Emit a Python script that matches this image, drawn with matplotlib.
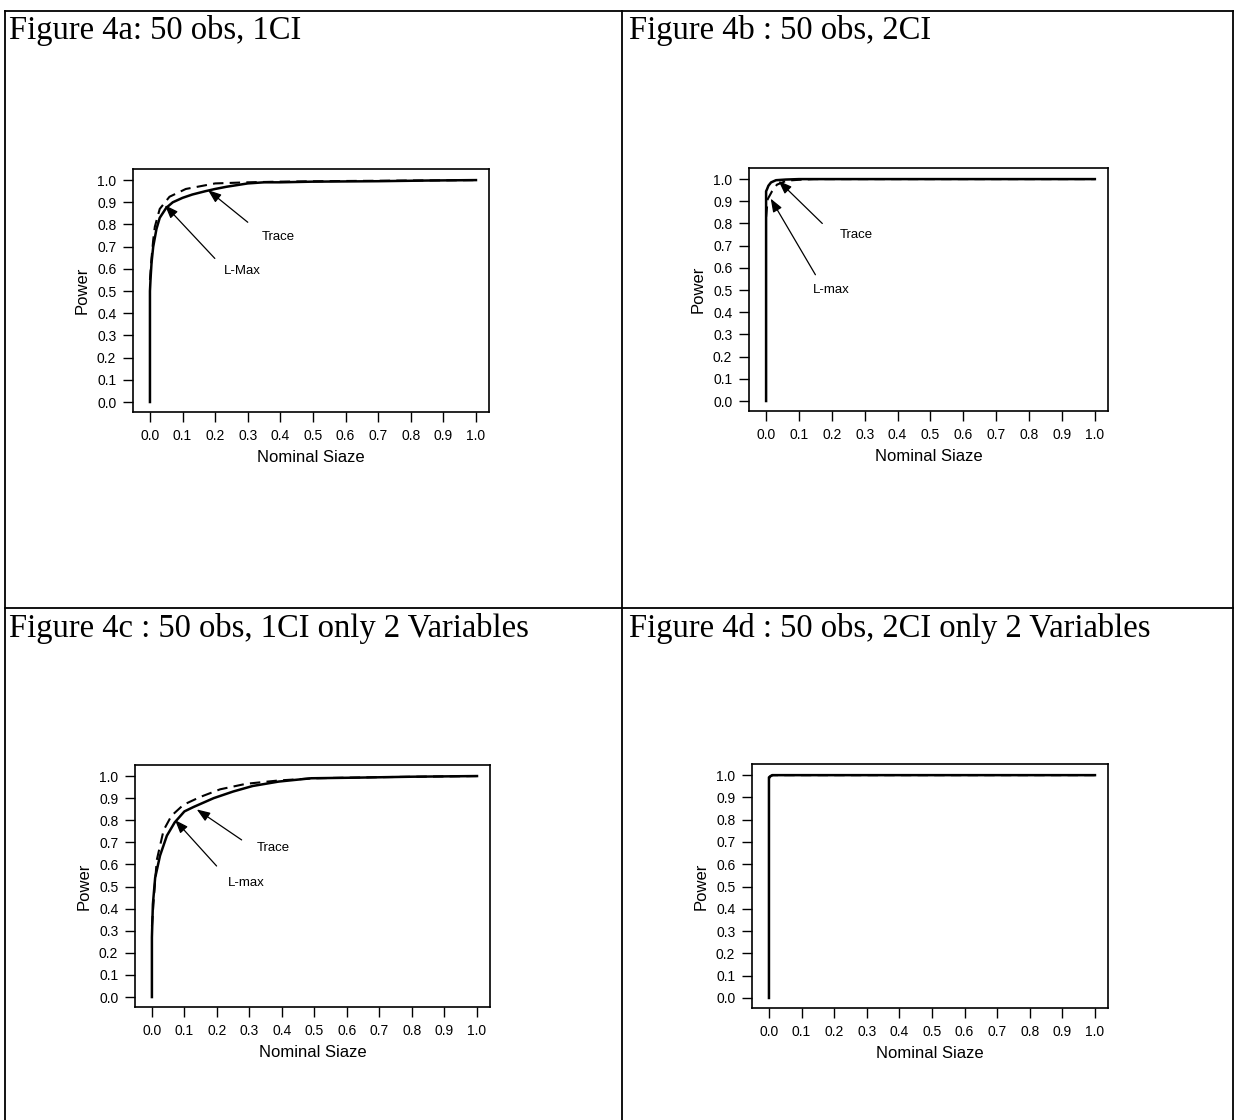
#!/usr/bin/env python3
"""Power vs. nominal size for L-max and Trace tests, 50 observations (4 panels)."""
import numpy as np
import matplotlib
matplotlib.use("Agg")
import matplotlib.pyplot as plt
from matplotlib.lines import Line2D

W, H = 1236, 1120

# panel titles
titles = [
    "Figure 4a: 50 obs, 1CI",
    "Figure 4b : 50 obs, 2CI",
    "Figure 4c : 50 obs, 1CI only 2 Variables",
    "Figure 4d : 50 obs, 2CI only 2 Variables",
]

# solid curves
a_solid_x = [0.0, 0.0, 0.002, 0.005, 0.01, 0.02, 0.03, 0.05, 0.07, 0.1, 0.13, 0.17, 0.2, 0.235, 0.3, 0.35, 0.4, 0.5, 0.7, 0.85, 1.0]
a_solid_y = [0.0, 0.5, 0.56, 0.63, 0.70, 0.78, 0.83, 0.875, 0.9, 0.92, 0.935, 0.95, 0.96, 0.97, 0.985, 0.99, 0.99, 0.993, 0.995, 0.998, 1.0]
a_dash_x = [0.0, 0.005, 0.01, 0.015, 0.03, 0.06, 0.11, 0.2, 0.3, 0.4, 0.6, 1.0]
a_dash_y = [0.55, 0.65, 0.73, 0.79, 0.87, 0.925, 0.96, 0.985, 0.99, 0.993, 0.996, 1.0]

b_solid_x = [0.0, 0.0, 0.003, 0.007, 0.015, 0.03, 0.06, 0.1, 0.3, 0.6, 1.0]
b_solid_y = [0.0, 0.945, 0.955, 0.97, 0.985, 0.995, 0.998, 1.0, 1.0, 1.0, 1.0]
b_dash_x = [0.0, 0.005, 0.018, 0.033, 0.063, 0.1, 0.145, 0.3, 1.0]
b_dash_y = [0.83, 0.91, 0.945, 0.975, 0.993, 0.997, 1.0, 1.0, 1.0]

c_solid_x = [0.0, 0.0, 0.003, 0.01, 0.025, 0.046, 0.07, 0.1, 0.128, 0.19, 0.25, 0.31, 0.39, 0.49, 0.64, 0.8, 1.0]
c_solid_y = [0.0, 0.27, 0.42, 0.54, 0.64, 0.73, 0.79, 0.84, 0.86, 0.90, 0.93, 0.955, 0.975, 0.99, 0.993, 0.997, 1.0]
c_dash_x = [0.0, 0.007, 0.015, 0.036, 0.06, 0.097, 0.148, 0.21, 0.29, 0.39, 0.5, 0.7, 1.0]
c_dash_y = [0.32, 0.47, 0.62, 0.755, 0.82, 0.87, 0.905, 0.94, 0.965, 0.98, 0.99, 0.995, 1.0]

d_solid_x = [0.0, 0.0, 0.004, 0.01, 0.1, 0.5, 1.0]
d_solid_y = [0.0, 0.99, 0.995, 1.0, 1.0, 1.0, 1.0]
d_dash_x = [0.0, 0.005, 0.012, 0.1, 1.0]
d_dash_y = [0.985, 0.995, 1.0, 1.0, 1.0]

# annotations: (label, text xy, arrow start, arrow tip)
a_notes = [("Trace", (0.393, 0.744), (0.30, 0.81), (0.178, 0.955)),
           ("L-Max", (0.283, 0.59), (0.199, 0.647), (0.046, 0.887))]
b_notes = [("Trace", (0.273, 0.746), (0.171, 0.80), (0.038, 0.992)),
           ("L-max", (0.198, 0.50), (0.150, 0.569), (0.014, 0.912))]
c_notes = [("Trace", (0.372, 0.673), (0.276, 0.711), (0.138, 0.849)),
           ("L-max", (0.291, 0.515), (0.199, 0.593), (0.071, 0.801))]
d_notes = []

ticks = np.round(np.arange(0, 1.01, 0.1), 1)

# layout in pixels: axes box (left, top, right, bottom), title origin
boxes = [(133, 169, 489, 412), (749, 168, 1108, 411),
         (135, 765, 490, 1007), (752, 764, 1108, 1008)]
title_pos = [(9, 30), (629, 30), (9, 628), (629, 628)]

panels = [
    (a_solid_x, a_solid_y, a_dash_x, a_dash_y, a_notes),
    (b_solid_x, b_solid_y, b_dash_x, b_dash_y, b_notes),
    (c_solid_x, c_solid_y, c_dash_x, c_dash_y, c_notes),
    (d_solid_x, d_solid_y, d_dash_x, d_dash_y, d_notes),
]


def main():
    plt.rcParams["font.family"] = ["Liberation Sans", "DejaVu Sans"]
    fig = plt.figure(figsize=(W / 100, H / 100), dpi=100)

    # table grid
    line_kw = dict(color="black", lw=1.3, transform=fig.transFigure)
    fy = lambda y: 1 - y / H
    fx = lambda x: x / W
    fig.add_artist(Line2D([fx(5), fx(1233)], [fy(11), fy(11)], **line_kw))
    fig.add_artist(Line2D([fx(5), fx(1233)], [fy(608), fy(608)], **line_kw))
    for x in (5, 622, 1233):
        fig.add_artist(Line2D([fx(x), fx(x)], [fy(11), 0], **line_kw))

    for (l, t, r, b), (tx, ty), title, (sx, sy, dx, dy, notes) in zip(
            boxes, title_pos, titles, panels):
        fig.text(fx(tx), fy(ty), title, family="Liberation Serif",
                 fontsize=23.5, va="center", ha="left")

        ax = fig.add_axes([fx(l), fy(b), (r - l) / W, (b - t) / H])
        ax.plot(dx, dy, color="black", lw=1.5, linestyle=(0, (5, 3)))
        ax.plot(sx, sy, color="black", lw=1.8)
        ax.set_xlim(-0.052, 1.04)
        ax.set_ylim(-0.045, 1.05)
        ax.set_xticks(ticks)
        ax.set_yticks(ticks)
        ax.set_xticklabels([f"{v:.1f}" for v in ticks])
        ax.set_yticklabels([f"{v:.1f}" for v in ticks])
        ax.tick_params(direction="out", length=7, width=1, labelsize=10, pad=5)
        for sp in ax.spines.values():
            sp.set_linewidth(1.2)
        ax.set_xlabel("Nominal Siaze", fontsize=12, labelpad=5)
        ax.set_ylabel("Power", fontsize=12, labelpad=5)

        for label, txy, start, tip in notes:
            ax.text(txy[0], txy[1], label, fontsize=9.5, ha="center", va="center")
            ax.annotate("", xy=tip, xytext=start,
                        arrowprops=dict(arrowstyle="-|>,head_length=0.8,head_width=0.3",
                                        color="black", lw=0.9, shrinkA=0, shrinkB=0))

    fig.savefig("out.png", dpi=100)
    plt.close(fig)


if __name__ == "__main__":
    main()
